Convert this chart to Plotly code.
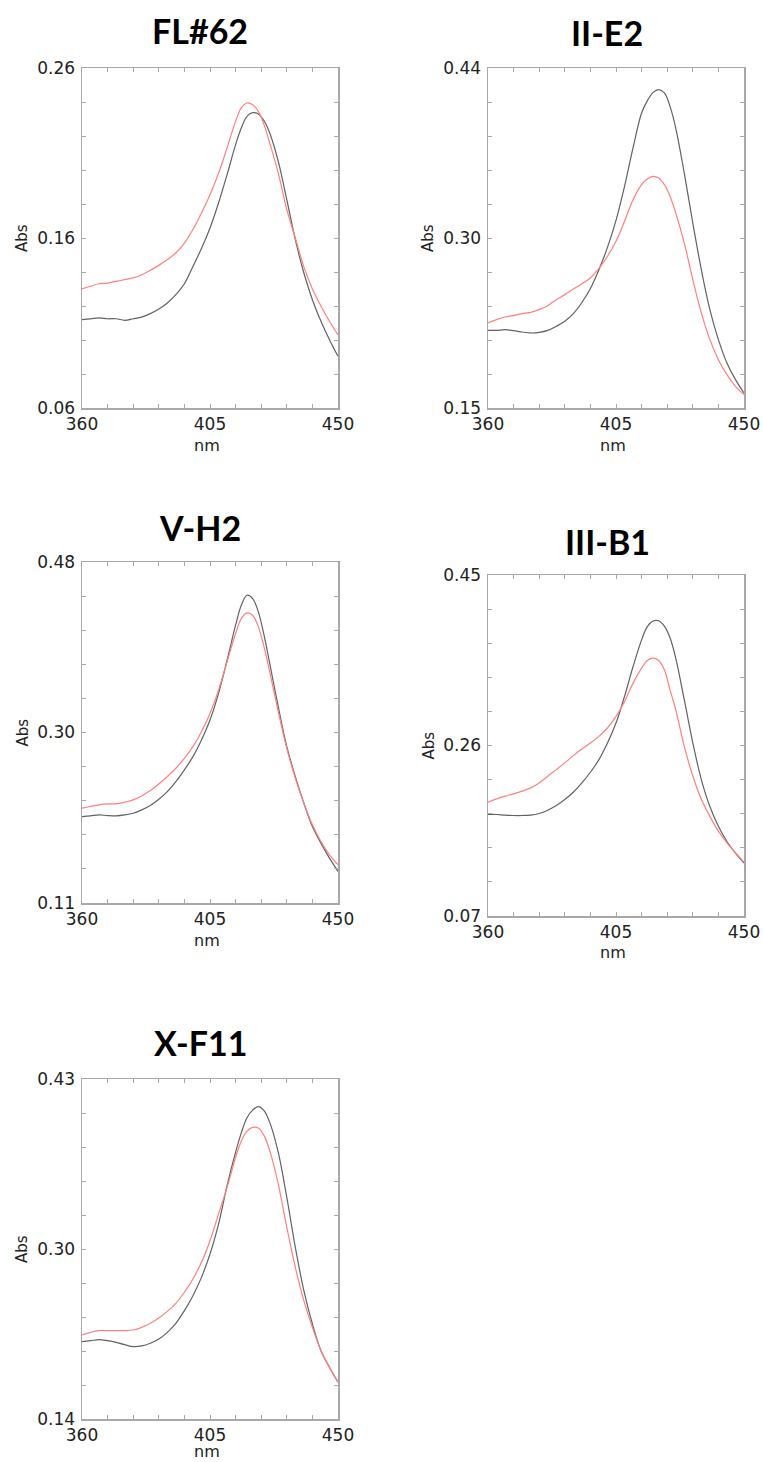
import plotly.graph_objects as go
import numpy as np

# ---------------- data ----------------
wavelength = [360, 363, 366, 369, 372, 375, 378, 381, 384, 387, 390, 393, 396, 399, 402, 405, 408,
              411, 414, 416, 418, 420, 422, 424, 426, 429, 432, 435, 438, 441, 444, 447, 450]

titles = ["FL#62", "II-E2", "V-H2", "III-B1", "X-F11"]

fl62_black = [0.112, 0.1124, 0.113, 0.1125, 0.1125, 0.1116, 0.1125, 0.1135, 0.1155, 0.1182, 0.1218, 0.1267,
              0.1331, 0.1433, 0.1538, 0.1659, 0.1806, 0.1973, 0.2149, 0.2247, 0.2316, 0.2337, 0.2330, 0.2290,
              0.2218, 0.2051, 0.1825, 0.1590, 0.1394, 0.1237, 0.1110, 0.1002, 0.0904]
fl62_red = [0.130, 0.1316, 0.1331, 0.1335, 0.1345, 0.1355, 0.1365, 0.1384, 0.141, 0.1439, 0.1473, 0.1512,
            0.157, 0.165, 0.1747, 0.1855, 0.198, 0.213, 0.2286, 0.2365, 0.2394, 0.2384, 0.2345, 0.2267,
            0.2159, 0.1982, 0.1767, 0.160, 0.143, 0.130, 0.120, 0.111, 0.103]

iie2_black = [0.2162, 0.2162, 0.2168, 0.216, 0.2148, 0.214, 0.2145, 0.2162, 0.2197, 0.224, 0.2305, 0.240,
              0.252, 0.268, 0.287, 0.310, 0.339, 0.372, 0.4016, 0.412, 0.419, 0.4215, 0.4187, 0.4073,
              0.3888, 0.3504, 0.3078, 0.268, 0.2339, 0.2083, 0.1884, 0.1742, 0.1628]
iie2_red = [0.2225, 0.2254, 0.2276, 0.2288, 0.2305, 0.2316, 0.2339, 0.2373, 0.2424, 0.2467, 0.2515, 0.256,
            0.2609, 0.269, 0.2794, 0.2922, 0.3093, 0.3277, 0.3405, 0.3453, 0.3476, 0.3462, 0.3405, 0.3306,
            0.3163, 0.2907, 0.2595, 0.2311, 0.2083, 0.1912, 0.1784, 0.1685, 0.1614]

vh2_black = [0.2038, 0.2046, 0.2056, 0.2049, 0.2046, 0.2056, 0.2074, 0.211, 0.2158, 0.2226, 0.2309, 0.2417,
             0.2544, 0.2688, 0.2869, 0.3085, 0.3374, 0.3735, 0.4114, 0.4331, 0.4439, 0.4403, 0.4259, 0.4006,
             0.3699, 0.323, 0.2797, 0.2472, 0.2183, 0.193, 0.175, 0.1587, 0.1443]
vh2_red = [0.2129, 0.2147, 0.2165, 0.2176, 0.2176, 0.2194, 0.2219, 0.2262, 0.232, 0.2392, 0.2472, 0.2562,
           0.267, 0.2796, 0.2959, 0.3157, 0.341, 0.3717, 0.4024, 0.4186, 0.4248, 0.4222, 0.4096, 0.3879,
           0.3609, 0.3176, 0.2779, 0.2454, 0.2183, 0.1948, 0.1768, 0.1623, 0.1515]

iiib1_black = [0.1831, 0.1831, 0.1824, 0.182, 0.182, 0.1824, 0.1842, 0.1879, 0.1931, 0.1998, 0.2079, 0.2183,
               0.2302, 0.2443, 0.2628, 0.285, 0.3147, 0.348, 0.3777, 0.3925, 0.3988, 0.399, 0.393, 0.380,
               0.3573, 0.311, 0.263, 0.222, 0.192, 0.170, 0.153, 0.140, 0.129]
iiib1_red = [0.1968, 0.2005, 0.2035, 0.2061, 0.2091, 0.2128, 0.2183, 0.2257, 0.2331, 0.2406, 0.2487, 0.2561,
             0.2628, 0.2702, 0.2795, 0.2924, 0.3091, 0.3295, 0.3462, 0.3547, 0.3573, 0.3547, 0.3443, 0.322,
             0.300, 0.259, 0.226, 0.200, 0.181, 0.1645, 0.1516, 0.1405, 0.130]

xf11_black = [0.206, 0.2068, 0.2077, 0.2068, 0.2054, 0.2034, 0.2017, 0.2023, 0.2046, 0.2082, 0.2139, 0.2216,
              0.2324, 0.2452, 0.2608, 0.2807, 0.3063, 0.339, 0.3675, 0.384, 0.397, 0.4035, 0.4064, 0.403,
              0.393, 0.3674, 0.3291, 0.2864, 0.2495, 0.221, 0.1983, 0.1841, 0.1713]
xf11_red = [0.2117, 0.2139, 0.2154, 0.2154, 0.2154, 0.2154, 0.2159, 0.2182, 0.2216, 0.2262, 0.2318, 0.2387,
            0.2481, 0.2594, 0.2736, 0.2921, 0.3148, 0.3376, 0.3632, 0.377, 0.3855, 0.3888, 0.3882, 0.3817,
            0.3689, 0.3404, 0.3035, 0.2694, 0.2409, 0.2182, 0.1983, 0.1841, 0.1713]

black_series = [fl62_black, iie2_black, vh2_black, iiib1_black, xf11_black]
red_series = [fl62_red, iie2_red, vh2_red, iiib1_red, xf11_red]

x_ticks = [360, 405, 450]
y_ranges = [(0.06, 0.26), (0.15, 0.44), (0.11, 0.48), (0.07, 0.45), (0.14, 0.43)]
y_ticklabels = [["0.06", "0.16", "0.26"], ["0.15", "0.30", "0.44"], ["0.11", "0.30", "0.48"],
                ["0.07", "0.26", "0.45"], ["0.14", "0.30", "0.43"]]

# ---------------- layout (pixel boxes) ----------------
W, H = 763, 1462
boxes = [  # left, right, top, bottom in px
    (82, 338, 68, 408),
    (488, 744, 68, 408),
    (82, 338, 562, 903),
    (488, 744, 575, 916),
    (82, 338, 1079, 1419),
]
title_pos = [(200, 31), (607, 32), (200, 527), (607, 541), (200, 1042)]
nm_offset = [37, 37, 37, 37, 32]

FRAME = "#a8a8a8"
TXT = "#222222"
fig = go.Figure()
annotations = []

for i in range(5):
    l, r, t, b = boxes[i]
    xa = "x" if i == 0 else f"x{i+1}"
    ya = "y" if i == 0 else f"y{i+1}"
    fig.add_trace(go.Scatter(x=wavelength, y=black_series[i], mode="lines",
                             line=dict(color="rgba(70,70,70,0.85)", width=1.2, shape="spline", smoothing=1.0),
                             xaxis=xa, yaxis=ya, hoverinfo="skip"))
    fig.add_trace(go.Scatter(x=wavelength, y=red_series[i], mode="lines",
                             line=dict(color="#ff8080", width=1.2, shape="spline", smoothing=1.0),
                             xaxis=xa, yaxis=ya, hoverinfo="skip"))
    lo, hi = y_ranges[i]
    ytv = [lo, (lo + hi) / 2, hi]
    common = dict(showgrid=False, zeroline=False, showline=True, linecolor=FRAME, linewidth=1.5,
                  mirror="allticks", ticks="inside", ticklen=4, tickcolor=FRAME, tickwidth=1,
                  automargin=False, fixedrange=True,
                  tickfont=dict(family="DejaVu Sans", size=17, color=TXT))
    xkey = "xaxis" if i == 0 else f"xaxis{i+1}"
    ykey = "yaxis" if i == 0 else f"yaxis{i+1}"
    fig.update_layout(**{
        xkey: dict(domain=[l / W, r / W], anchor=ya, range=[360 - 1e-6, 450 + 1e-6],
                   tickvals=x_ticks, ticktext=[str(v) for v in x_ticks],
                   minor=dict(ticks="inside", ticklen=4, tickcolor=FRAME,
                              tickvals=list(np.linspace(360, 450, 11))),
                   **common),
        ykey: dict(domain=[1 - b / H, 1 - t / H], anchor=xa, range=[lo - 1e-7, hi + 1e-7],
                   tickvals=ytv, ticktext=y_ticklabels[i], ticklabelstandoff=2,
                   minor=dict(ticks="inside", ticklen=4, tickcolor=FRAME,
                              tickvals=list(np.linspace(lo, hi, 11))),
                   **common),
    })
    tx, ty = title_pos[i]
    annotations.append(dict(text=f"<b>{titles[i]}</b>", x=tx / W, y=1 - ty / H, xref="paper", yref="paper",
                            showarrow=False, font=dict(family="Lato", size=34, color="black"),
                            xanchor="center", yanchor="middle"))
    annotations.append(dict(text="Abs", x=(l - 60) / W, y=1 - ((t + b) / 2) / H, xref="paper", yref="paper",
                            showarrow=False, textangle=-90, font=dict(family="DejaVu Sans", size=15, color=TXT),
                            xanchor="center", yanchor="middle"))
    annotations.append(dict(text="nm", x=(l + 125) / W, y=1 - (b + nm_offset[i]) / H, xref="paper", yref="paper",
                            showarrow=False, font=dict(family="DejaVu Sans", size=16, color=TXT),
                            xanchor="center", yanchor="middle"))

fig.update_layout(width=W, height=H, margin=dict(l=0, r=0, t=0, b=0, autoexpand=False),
                  plot_bgcolor="white", paper_bgcolor="white", showlegend=False,
                  annotations=annotations)

fig.write_html("out.html", config={"displayModeBar": False, "staticPlot": True},
               post_script="document.body.style.margin='0';document.documentElement.style.overflow='hidden';")
